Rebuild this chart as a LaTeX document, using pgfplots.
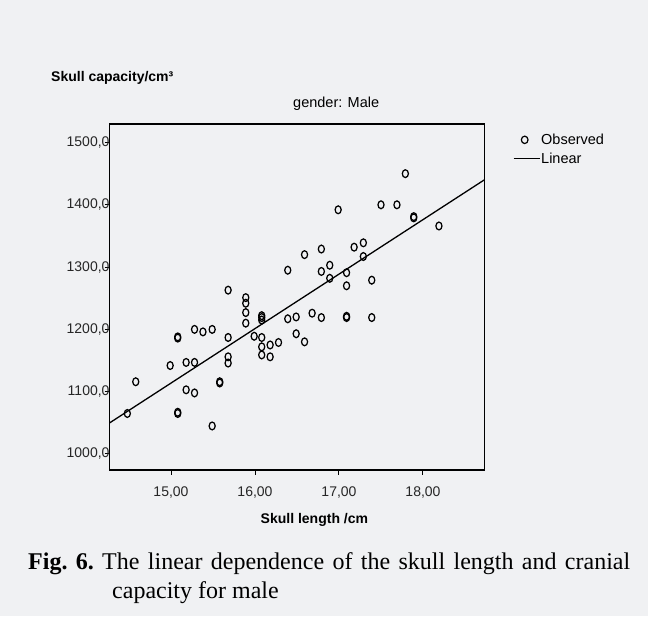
\documentclass[border=0pt]{standalone}
\usepackage{fontspec}
\setmainfont{Liberation Sans}
\newfontfamily\capfont{Liberation Serif}
\usepackage{pgfplots}
\pgfplotsset{compat=1.18}
\definecolor{bg}{RGB}{240,241,243}
\pgfplotstableread{
x y
14.48 1065
14.58 1116
14.99 1142
15.08 1188
15.08 1186
15.08 1067
15.08 1065
15.18 1147
15.18 1103
15.28 1200
15.28 1147
15.28 1098
15.38 1196
15.49 1200
15.49 1045
15.58 1116
15.58 1114
15.68 1263
15.68 1187
15.68 1156
15.68 1146
15.89 1251
15.89 1242
15.89 1227
15.89 1210
15.99 1189
16.08 1222
16.08 1219
16.08 1215
16.08 1187
16.08 1172
16.08 1159
16.18 1175
16.18 1156
16.28 1179
16.39 1295
16.39 1217
16.49 1220
16.49 1193
16.59 1320
16.59 1180
16.68 1226
16.79 1329
16.79 1293
16.79 1219
16.89 1303
16.89 1282
16.99 1392
17.09 1291
17.09 1270
17.09 1221
17.09 1219
17.18 1332
17.29 1339
17.29 1317
17.39 1279
17.39 1219
17.50 1400
17.69 1400
17.79 1450
17.89 1381
17.89 1379
18.19 1366
}\observed
\pgfplotstableread{
x y
14.27 1050
18.73 1440
}\linear
\begin{document}
\begin{tikzpicture}[x=1pt,y=1pt]
\fill[bg] (0,0) rectangle (648,616);
\useasboundingbox (0,0) rectangle (648,616);
\begin{axis}[
  at={(109.7pt,146pt)}, anchor=south west,
  scale only axis, width=374.6pt, height=346pt,
  xmin=14.27, xmax=18.73, ymin=974.3, ymax=1529.7,
  axis background/.style={fill=bg},
  axis line style={line width=1.2pt, black},
  tick align=outside, tick pos=left, major tick length=5pt,
  tick style={line width=1pt, black},
  xtick={15,16,17,18},
  xticklabels={{15,00},{16,00},{17,00},{18,00}},
  ytick={1000,1100,1200,1300,1400,1500},
  yticklabels={{1000,0},{1100,0},{1200,0},{1300,0},{1400,0},{1500,0}},
  /pgf/number format/assume math mode=true,
  ticklabel style={font=\fontsize{14}{14}\selectfont, text=black!85},
  yticklabel style={anchor=east, inner sep=0pt, xshift=5pt},
  xticklabel style={anchor=center, yshift=-18pt},
  legend style={at={(1.0766,0.975)}, anchor=north west, draw=none, fill=none,
    inner sep=0pt, row sep=4.7pt,
    font=\fontsize{14.5}{14.5}\selectfont,
    nodes={inner xsep=1pt, inner ysep=1pt}},
  legend cell align=left,
  clip=false,
]
\addplot[only marks, mark=o, mark size=3.9pt,
  mark options={xscale=0.78, line width=1.25pt, black},
  legend image code/.code={\draw[mark=o, mark size=3.7pt, mark options={xscale=0.9, line width=1.2pt, black}] plot coordinates {(11pt,0pt)};}]
  table[x=x,y=y] {\observed};
\addlegendentry{Observed}
\addplot[black, line width=1.3pt, no marks,
  legend image code/.code={\draw[black, line width=1pt] (0pt,0pt) -- (26pt,0pt);}]
  table[x=x,y=y] {\linear};
\addlegendentry{Linear}
\end{axis}
\node[anchor=west, inner sep=0pt, font=\bfseries\fontsize{14}{14}\selectfont] at (51,538) {Skull capacity/cm³};
\node[anchor=west, inner sep=0pt, font=\fontsize{14.5}{14.5}\selectfont] at (293,512) {gender: Male};
\node[anchor=center, inner sep=0pt, font=\bfseries\fontsize{14}{14}\selectfont] at (314.4,95.7) {Skull length /cm};
\node[anchor=base west, inner sep=0pt] at (28,46) {\capfont\fontsize{24}{28}\selectfont\frenchspacing\makebox[602pt][s]{\textbf{Fig. 6.} The linear dependence of the skull length and cranial}};
\node[anchor=base west, inner sep=0pt] at (112,18) {\capfont\fontsize{24}{28}\selectfont capacity for male};
\end{tikzpicture}
\end{document}
